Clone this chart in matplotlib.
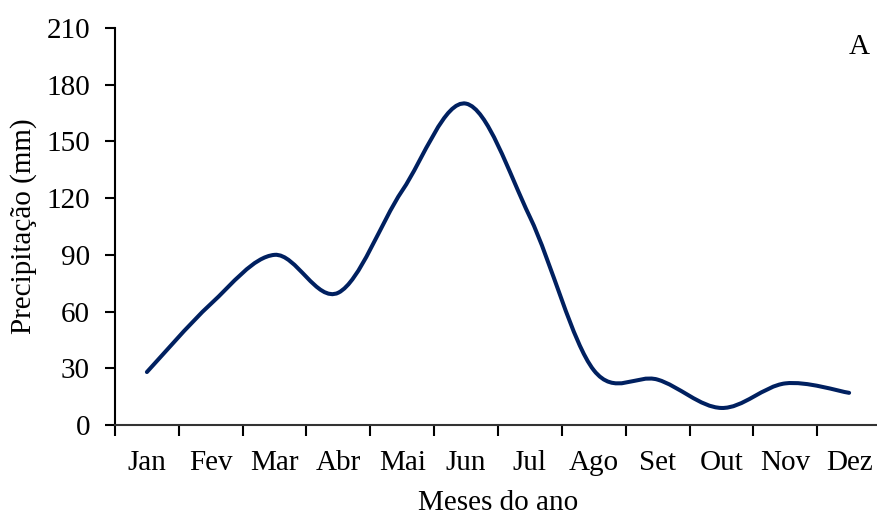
import numpy as np
import matplotlib
matplotlib.use('Agg')
import matplotlib.pyplot as plt
from matplotlib.path import Path
from matplotlib.patches import PathPatch

meses = ['Jan', 'Fev', 'Mar', 'Abr', 'Mai', 'Jun', 'Jul', 'Ago', 'Set', 'Out', 'Nov', 'Dez']
precip = [28, 64, 90, 70, 124, 170, 110, 29, 24, 9, 22, 17]

plt.rcParams['font.family'] = 'Liberation Serif'
plt.rcParams['font.size'] = 21

fig = plt.figure(figsize=(8.77, 5.15), dpi=100)
ax = fig.add_axes([0.1311, 0.1748, 0.8735, 0.7708])

# smoothed line (Excel-like bezier through the points)
x = np.arange(len(precip), dtype=float)
y = np.array(precip, dtype=float)
verts = [(x[0], y[0])]
codes = [Path.MOVETO]
n = len(x)
for i in range(n - 1):
    i0 = max(i - 1, 0)
    i3 = min(i + 2, n - 1)
    c1 = (x[i] + (x[i + 1] - x[i0]) / 6, y[i] + (y[i + 1] - y[i0]) / 6)
    c2 = (x[i + 1] - (x[i3] - x[i]) / 6, y[i + 1] - (y[i3] - y[i]) / 6)
    verts += [c1, c2, (x[i + 1], y[i + 1])]
    codes += [Path.CURVE4] * 3
ax.add_patch(PathPatch(Path(verts, codes), facecolor='none', edgecolor='#002060',
                       lw=2.9, capstyle='round', joinstyle='round'))

ax.set_xlim(-0.5, 11.5)
ax.set_ylim(0, 210)
ax.set_yticks(np.arange(0, 211, 30))
ax.set_xticks(np.arange(-0.5, 11.6, 1))
ax.set_xticklabels([])
ax.set_xticks(x, minor=True)
ax.set_xticklabels(meses, minor=True)
ax.tick_params(axis='x', which='minor', length=0, pad=18)
ax.tick_params(axis='x', which='major', length=8, width=1.5, direction='out')
ax.tick_params(axis='y', length=7, width=1.5, direction='out', pad=11)

for s in ['top', 'right']:
    ax.spines[s].set_visible(False)
for s in ['left', 'bottom']:
    ax.spines[s].set_linewidth(1.5)
ax.spines['bottom'].set_color('#333333')

ax.set_xlabel('Meses do ano', labelpad=10)
ax.set_ylabel('Precipitação (mm)', labelpad=7)
ax.text(0.971, 0.953, 'A', transform=ax.transAxes, ha='center', va='center')

fig.savefig('out.png', dpi=100)
